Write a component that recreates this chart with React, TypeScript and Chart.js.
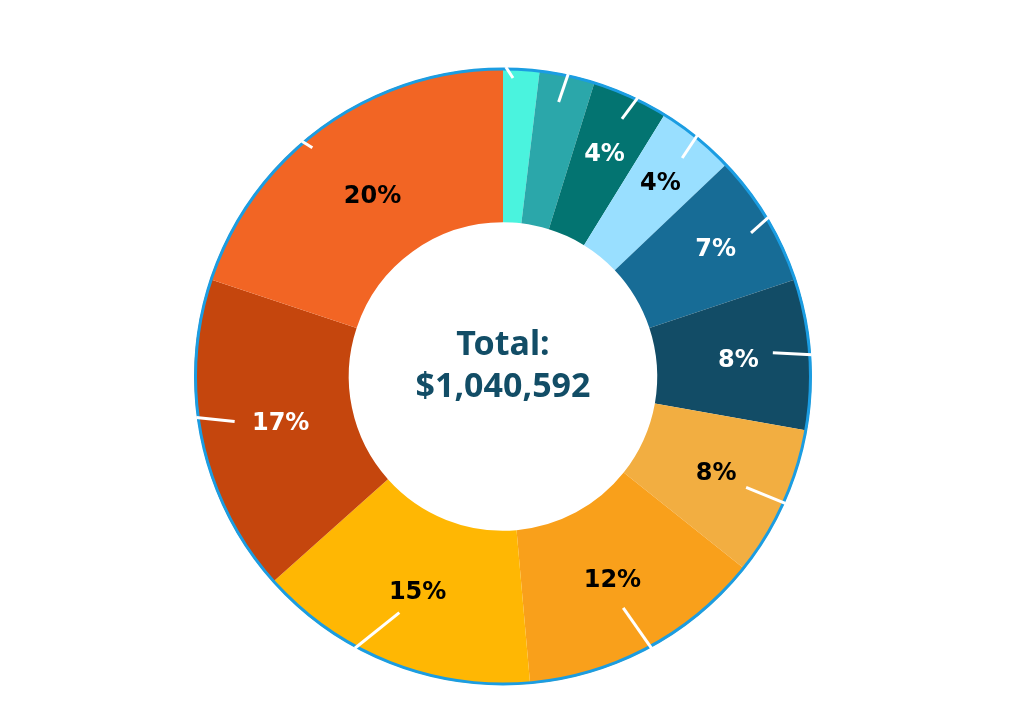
import React, { useEffect, useRef } from "react";
import { Chart, registerables } from "chart.js";

Chart.register(...registerables);

const categories = [
  "Category A",
  "Category B",
  "Category C",
  "Category D",
  "Category E",
  "Category F",
  "Category G",
  "Category H",
  "Category I",
  "Category J",
  "Category K",
];
const amounts = [19771, 30177, 41624, 42664, 72841, 82207, 82207, 134236, 154008, 173779, 207078];
const percentLabels = ["", "", "4%", "4%", "7%", "8%", "8%", "12%", "15%", "17%", "20%"];
const centerTitle = "Total:";
const centerValue = "$1,040,592";

const sliceColors = [
  "#4AF3DE",
  "#2BA7AA",
  "#037471",
  "#99DFFF",
  "#176C96",
  "#124C66",
  "#F2AE41",
  "#F9A01B",
  "#FFB703",
  "#C5460D",
  "#F26524",
];
const labelColors = ["#fff", "#fff", "#fff", "#000", "#fff", "#fff", "#000", "#000", "#000", "#fff", "#000"];
// label distance from centre, as a share of the outer radius
const labelRadiusShare = [0.79, 0.79, 0.794, 0.81, 0.804, 0.765, 0.758, 0.749, 0.752, 0.736, 0.723];
// leader style: [start angle shift (deg), end angle shift (deg), end radius share]
const leaderStyle: [number, number, number][] = [
  [-2.9, -1.5, 0.968],
  [0.1, -0.6, 0.908],
  [1.3, 0.3, 0.92],
  [-0.2, 0.3, 0.916],
  [0, 0.9, 0.929],
  [0.1, -0.9, 0.878],
  [-0.1, 0.2, 0.866],
  [-0.4, 0.8, 0.845],
  [7.0, 2.1, 0.836],
  [4.1, 2.2, 0.882],
  [-4.7, -4.0, 0.965],
];

const deg = Math.PI / 180;

const decorPlugin = {
  id: "decor",
  afterDatasetsDraw(chart: any) {
    const ctx: CanvasRenderingContext2D = chart.ctx;
    const meta = chart.getDatasetMeta(0);
    const arcs = meta.data;
    if (!arcs.length) return;
    const { x, y, outerRadius } = arcs[0].getProps(["x", "y", "outerRadius", "innerRadius"], true);
    ctx.save();
    // outer blue ring
    ctx.beginPath();
    ctx.arc(x, y, outerRadius - 1, 0, Math.PI * 2);
    ctx.strokeStyle = "#1B9DE2";
    ctx.lineWidth = 3;
    ctx.stroke();

    arcs.forEach((arc: any, i: number) => {
      const p = arc.getProps(["startAngle", "endAngle"], true);
      const mid = (p.startAngle + p.endAngle) / 2;
      const [s0, s1, er] = leaderStyle[i];
      const a0 = mid + s0 * deg;
      const a1 = mid + s1 * deg;
      ctx.beginPath();
      ctx.moveTo(x + Math.cos(a0) * (outerRadius + 1), y + Math.sin(a0) * (outerRadius + 1));
      ctx.lineTo(x + Math.cos(a1) * outerRadius * er, y + Math.sin(a1) * outerRadius * er);
      ctx.strokeStyle = "#ffffff";
      ctx.lineWidth = 3;
      ctx.lineCap = "butt";
      ctx.stroke();

      const txt = percentLabels[i];
      if (txt) {
        const lr = outerRadius * labelRadiusShare[i];
        const lx = x + Math.cos(mid) * lr;
        const ly = y + Math.sin(mid) * lr;
        ctx.fillStyle = labelColors[i];
        ctx.font = "bold 24px 'DejaVu Sans', sans-serif";
        ctx.textAlign = "center";
        ctx.textBaseline = "middle";
        ctx.fillText(txt, lx, ly + 1);
      }
    });

    // center text
    ctx.fillStyle = "#124D66";
    ctx.font = "bold 34px 'Noto Sans', sans-serif";
    ctx.textAlign = "center";
    ctx.textBaseline = "middle";
    ctx.fillText(centerTitle, x, y - 31);
    ctx.fillText(centerValue, x, y + 11);
    ctx.restore();
  },
};

export default function App() {
  const ref = useRef<HTMLCanvasElement | null>(null);
  useEffect(() => {
    if (!ref.current) return;
    const chart = new Chart(ref.current, {
      type: "doughnut",
      data: {
        labels: categories,
        datasets: [
          {
            data: amounts,
            backgroundColor: sliceColors,
            borderWidth: 0,
          },
        ],
      },
      options: {
        responsive: false,
        animation: false,
        cutout: "50%",
        layout: { padding: { left: 0, right: 18, top: 68, bottom: 24 } },
        plugins: {
          legend: { display: false },
          tooltip: { enabled: false },
        },
      },
      plugins: [decorPlugin],
    });
    return () => chart.destroy();
  }, []);
  return (
    <div style={{ position: "absolute", left: 0, top: 0, width: 1024, height: 709, background: "#fff" }}>
      <canvas ref={ref} width={1024} height={709} style={{ display: "block" }} />
    </div>
  );
}
